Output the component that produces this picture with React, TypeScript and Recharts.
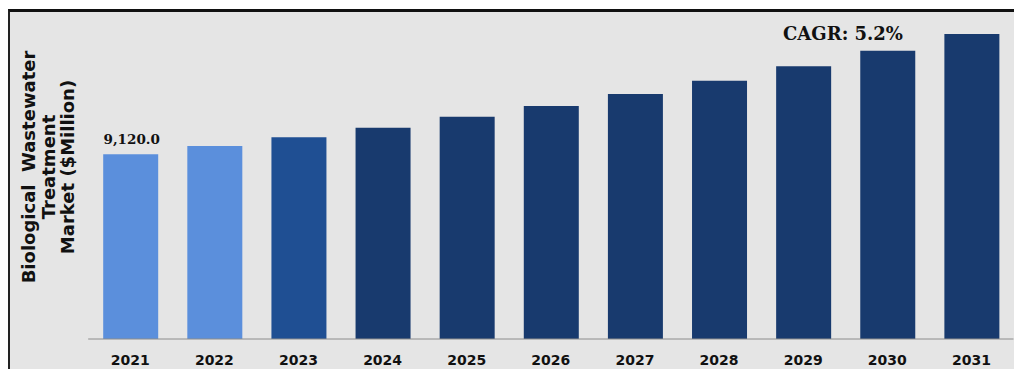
import { BarChart, Bar, XAxis, YAxis, Cell, LabelList } from "recharts";

const years = ["2021", "2022", "2023", "2024", "2025", "2026", "2027", "2028", "2029", "2030", "2031"];
const marketValues = [9120, 9530, 9960, 10434, 10977, 11505, 12098, 12755, 13466, 14236, 15061];
const barColors = ["#5b8fdc", "#5b8fdc", "#1f4f93", "#183a6e", "#183a6e", "#183a6e", "#183a6e", "#183a6e", "#183a6e", "#183a6e", "#183a6e"];
const valueLabels = ["9,120.0", "", "", "", "", "", "", "", "", "", ""];
const yLabelLines = ["Biological  Wastewater", "Treatment", "Market ($Million)"];
const cagrText = "CAGR: 5.2%";

const data = years.map((year, i) => ({
  year,
  value: marketValues[i],
  label: valueLabels[i],
}));

const ValueLabel = (props: any) => {
  const { x, y, width, value } = props;
  if (!value) return null;
  return (
    <text
      x={x + width / 2 + 1}
      y={y - 10}
      textAnchor="middle"
      fontFamily="'DejaVu Serif', serif"
      fontWeight="bold"
      fontSize={13.5}
      fill="#111"
    >
      {value}
    </text>
  );
};

export default function App() {
  return (
    <div
      style={{
        position: "relative",
        width: 1012,
        height: 357,
        marginTop: 1,
        borderTop: "3px solid #111",
        borderLeft: "2px solid #222",
        background: "#e5e5e5",
      }}
    >
      <BarChart
        width={1012}
        height={357}
        data={data}
        margin={{ top: 3, right: 8.5, left: 78.2, bottom: 0 }}
      >
        <XAxis
          dataKey="year"
          height={30}
          axisLine={{ stroke: "#8c8c8c", strokeWidth: 1 }}
          tickLine={false}
          tickMargin={10}
          interval={0}
          tick={{
            fill: "#111",
            fontSize: 14,
            fontWeight: "bold",
            fontFamily: "'DejaVu Sans', sans-serif",
          }}
        />
        <YAxis hide width={0} domain={[0, 16000]} />
        <Bar dataKey="value" barSize={55} isAnimationActive={false}>
          {data.map((entry, index) => (
            <Cell key={`cell-${index}`} fill={barColors[index]} />
          ))}
          <LabelList dataKey="label" content={ValueLabel} />
        </Bar>
      </BarChart>

      <svg
        width={1012}
        height={357}
        style={{ position: "absolute", left: 0, top: 0, pointerEvents: "none" }}
      >
        {yLabelLines.map((line, i) => (
          <text
            key={line}
            transform={`translate(${25 + i * 19.5},155) rotate(-90)`}
            textAnchor="middle"
            fontFamily="'DejaVu Sans', sans-serif"
            fontWeight="bold"
            fontSize={18}
            fill="#111"
            style={{ whiteSpace: "pre" }}
          >
            {line}
          </text>
        ))}
        <text
          x={833}
          y={28}
          textAnchor="middle"
          fontFamily="'DejaVu Serif', serif"
          fontWeight="bold"
          fontSize={18}
          fill="#111"
        >
          {cagrText}
        </text>
      </svg>
    </div>
  );
}
